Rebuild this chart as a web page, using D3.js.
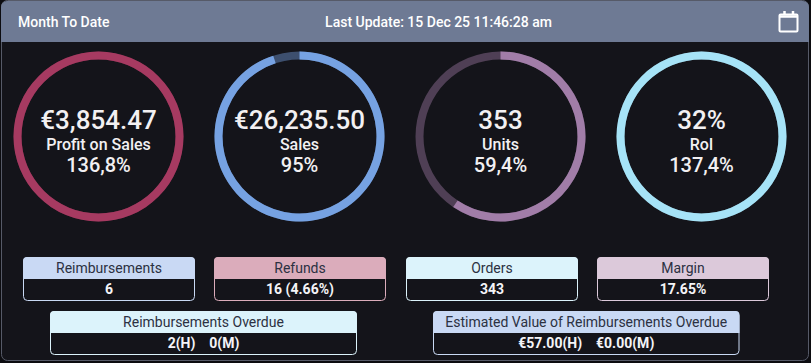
<!DOCTYPE html>
<html>
<head>
<meta charset="utf-8">
<script src="https://cdn.jsdelivr.net/npm/d3@7"></script>
<style>
html, body { margin: 0; padding: 0; background: #0c0c10; overflow: hidden; }
text { font-family: Roboto, sans-serif; }
</style>
</head>
<body>
<div id="chart"></div>
<script>
// gauges
var gaugeNames = ["Profit on Sales", "Sales", "Units", "RoI"];
var gaugeValues = ["€3,854.47", "€26,235.50", "353", "32%"];
var gaugePercents = [136.8, 95, 59.4, 137.4];
var gaugePercentLabels = ["136,8%", "95%", "59,4%", "137,4%"];
var gaugeColors = ["#a63a61", "#76a2e2", "#a17da8", "#a6e3f7"];

// small boxes
var boxTitles = ["Reimbursements", "Refunds", "Orders", "Margin"];
var boxValues = ["6", "16 (4.66%)", "343", "17.65%"];
var boxHeads = ["#c9d9f4", "#dbacbb", "#dcf3fb", "#dcc9da"];

var wideTitles = ["Reimbursements Overdue", "Estimated Value of Reimbursements Overdue"];
var wideValues = ["2(H)\u00a0\u00a0\u00a0\u00a00(M)", "€57.00(H)\u00a0\u00a0\u00a0\u00a0€0.00(M)"];
var wideHeads = ["#dcf3fb", "#c9d9f4"];

var width = 811, height = 363;

var svg = d3.select("#chart")
    .append("svg")
    .attr("width", width)
    .attr("height", height)
    .style("display", "block");

// card and header
svg.append("rect")
    .attr("x", 1.5).attr("y", 0.5)
    .attr("width", 807).attr("height", 360)
    .attr("rx", 6)
    .attr("fill", "#14141a")
    .attr("stroke", "#565a68");

svg.append("path")
    .attr("d", "M1,42V7a6,6 0 0 1 6,-6H803a6,6 0 0 1 6,6V42Z")
    .attr("fill", "#6e7a94");

svg.append("text")
    .attr("x", 18).attr("y", 27)
    .attr("fill", "#fff").attr("font-size", 14).attr("font-weight", 500)
    .text("Month To Date");

svg.append("text")
    .attr("x", 438.5).attr("y", 27)
    .attr("text-anchor", "middle")
    .attr("fill", "#fff").attr("font-size", 14).attr("font-weight", 500)
    .text("Last Update: 15 Dec 25 11:46:28 am");

// calendar icon
var cal = svg.append("g").attr("fill", "none").attr("stroke", "#fff");
cal.append("rect")
    .attr("x", 779.5).attr("y", 14.5)
    .attr("width", 18).attr("height", 17)
    .attr("rx", 1)
    .attr("stroke-width", 2);
cal.append("path")
    .attr("d", "M779,16.5H798M784.5,11V14M793,11V14")
    .attr("stroke-width", 2.5);

// gauges
var gaugeX = d3.scalePoint()
    .domain(gaugeNames)
    .range([98.5, 701.5]);

var angle = d3.scaleLinear()
    .domain([0, 100])
    .range([0, 2 * Math.PI])
    .clamp(true);

var arc = d3.arc()
    .innerRadius(77)
    .outerRadius(85)
    .startAngle(0);

var gauges = svg.selectAll(".gauge")
    .data(gaugeNames)
    .enter()
    .append("g")
    .attr("class", "gauge")
    .attr("transform", function(d) { return "translate(" + gaugeX(d) + ",136.5)"; });

gauges.append("path")
    .attr("d", arc({ endAngle: 2 * Math.PI }))
    .attr("fill", function(d, i) { return gaugeColors[i]; })
    .attr("fill-opacity", 0.42);

gauges.append("path")
    .attr("d", function(d, i) { return arc({ endAngle: angle(gaugePercents[i]) }); })
    .attr("fill", function(d, i) { return gaugeColors[i]; });

gauges.append("text")
    .attr("text-anchor", "middle")
    .attr("y", -7.5)
    .attr("fill", "#f2f0f2")
    .attr("font-size", 26)
    .attr("font-weight", 500)
    .text(function(d, i) { return gaugeValues[i]; });

gauges.append("text")
    .attr("text-anchor", "middle")
    .attr("y", 13)
    .attr("fill", "#f2f0f2")
    .attr("font-size", 16)
    .attr("font-weight", 500)
    .text(function(d) { return d; });

gauges.append("text")
    .attr("text-anchor", "middle")
    .attr("y", 35.5)
    .attr("fill", "#f2f0f2")
    .attr("font-size", 20)
    .attr("font-weight", 500)
    .text(function(d, i) { return gaugePercentLabels[i]; });

// draws one titled box
function drawBox(x, y, w, title, value, head) {
    var g = svg.append("g").attr("transform", "translate(" + x + "," + y + ")");
    g.append("rect")
        .attr("x", 0.5).attr("y", 0.5)
        .attr("width", w - 1).attr("height", 43)
        .attr("rx", 4)
        .attr("fill", "#14141a")
        .attr("stroke", head);
    g.append("path")
        .attr("d", "M0,22V4a4,4 0 0 1 4,-4H" + (w - 4) + "a4,4 0 0 1 4,4V22Z")
        .attr("fill", head);
    g.append("text")
        .attr("x", w / 2).attr("y", 16)
        .attr("text-anchor", "middle")
        .attr("fill", "#2c3142")
        .attr("font-size", 14)
        .text(title);
    g.append("text")
        .attr("x", w / 2).attr("y", 37)
        .attr("text-anchor", "middle")
        .attr("fill", "#f4f4f8")
        .attr("font-size", 14)
        .attr("font-weight", 700)
        .text(value);
}

var boxLeft = [23, 214, 406, 597];
boxTitles.forEach(function(t, i) {
    drawBox(boxLeft[i], 257, 172, t, boxValues[i], boxHeads[i]);
});

var wideLeft = [50, 433];
wideTitles.forEach(function(t, i) {
    drawBox(wideLeft[i], 311, i == 0 ? 307 : 306.5, t, wideValues[i], wideHeads[i]);
});
</script>
</body>
</html>
